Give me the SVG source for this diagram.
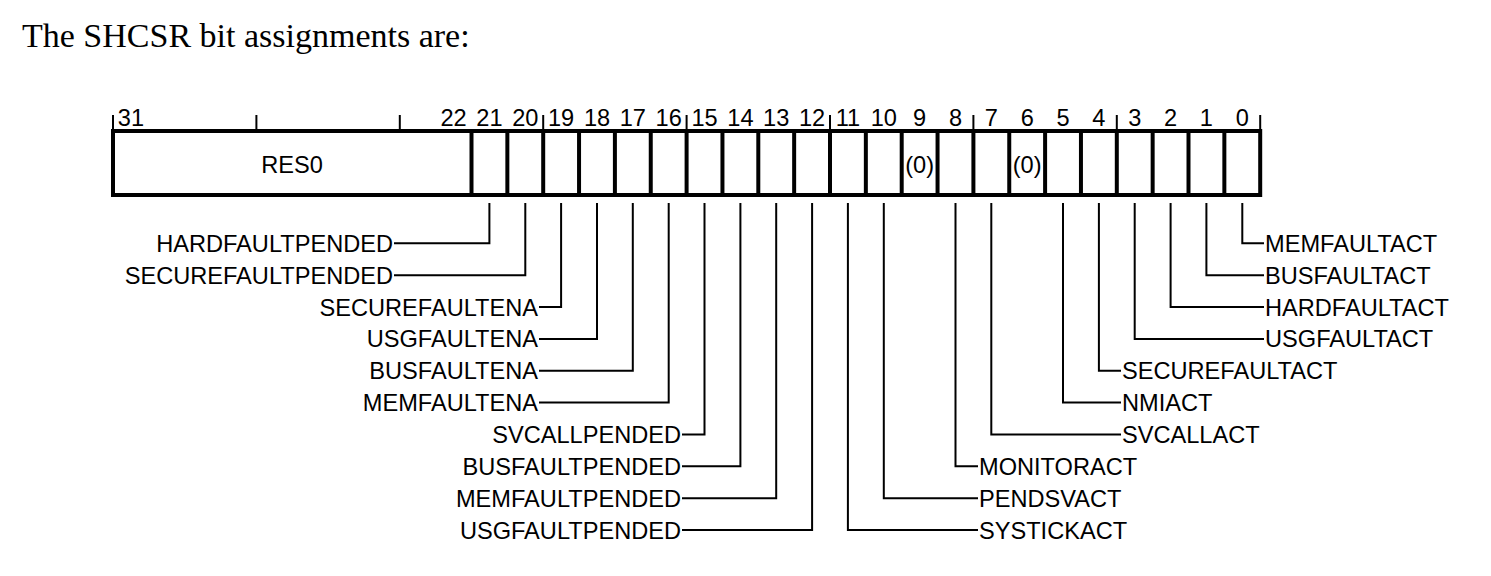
<svg xmlns="http://www.w3.org/2000/svg" width="1491" height="576" viewBox="0 0 1491 576">
<style>
.t{font-family:"Liberation Sans",Arial,sans-serif;font-size:23.6px;fill:#000}
.n{text-anchor:middle}
.e{text-anchor:end}
.c{fill:none;stroke:#000;stroke-width:2;stroke-linejoin:miter}
.d{stroke:#000;stroke-width:4}
.k{stroke:#000;stroke-width:2}
</style>
<rect width="1491" height="576" fill="#fff"/>
<text x="22" y="47" font-family="'Liberation Serif','Times New Roman',serif" font-size="34" fill="#000">The SHCSR bit assignments are:</text>
<g id="register">
<g id="ticks">
<line class="k" x1="113" y1="115" x2="113" y2="131"/>
<line class="k" x1="256.4" y1="115" x2="256.4" y2="131"/>
<line class="k" x1="399.8" y1="115" x2="399.8" y2="131"/>
<line class="k" x1="543.2" y1="115" x2="543.2" y2="131"/>
<line class="k" x1="686.6" y1="115" x2="686.6" y2="131"/>
<line class="k" x1="830" y1="115" x2="830" y2="131"/>
<line class="k" x1="973.4" y1="115" x2="973.4" y2="131"/>
<line class="k" x1="1116.8" y1="115" x2="1116.8" y2="131"/>
<line class="k" x1="1260.2" y1="115" x2="1260.2" y2="131"/>
</g>
<g id="bitnums" class="t n">
<text x="130.9" y="126">31</text>
<text x="453.6" y="126">22</text>
<text x="489.4" y="126">21</text>
<text x="525.3" y="126">20</text>
<text x="561.1" y="126">19</text>
<text x="597" y="126">18</text>
<text x="632.8" y="126">17</text>
<text x="668.7" y="126">16</text>
<text x="704.5" y="126">15</text>
<text x="740.4" y="126">14</text>
<text x="776.2" y="126">13</text>
<text x="812.1" y="126">12</text>
<text x="847.9" y="126">11</text>
<text x="883.8" y="126">10</text>
<text x="919.6" y="126">9</text>
<text x="955.5" y="126">8</text>
<text x="991.3" y="126">7</text>
<text x="1027.2" y="126">6</text>
<text x="1063" y="126">5</text>
<text x="1098.9" y="126">4</text>
<text x="1134.7" y="126">3</text>
<text x="1170.6" y="126">2</text>
<text x="1206.4" y="126">1</text>
<text x="1242.3" y="126">0</text>
</g>
<rect x="113" y="131" width="1147.2" height="64" fill="#fff" stroke="#000" stroke-width="4"/>
<g id="dividers">
<line class="d" x1="471.5" y1="131" x2="471.5" y2="195"/>
<line class="d" x1="507.35" y1="131" x2="507.35" y2="195"/>
<line class="d" x1="543.2" y1="131" x2="543.2" y2="195"/>
<line class="d" x1="579.05" y1="131" x2="579.05" y2="195"/>
<line class="d" x1="614.9" y1="131" x2="614.9" y2="195"/>
<line class="d" x1="650.75" y1="131" x2="650.75" y2="195"/>
<line class="d" x1="686.6" y1="131" x2="686.6" y2="195"/>
<line class="d" x1="722.45" y1="131" x2="722.45" y2="195"/>
<line class="d" x1="758.3" y1="131" x2="758.3" y2="195"/>
<line class="d" x1="794.15" y1="131" x2="794.15" y2="195"/>
<line class="d" x1="830" y1="131" x2="830" y2="195"/>
<line class="d" x1="865.85" y1="131" x2="865.85" y2="195"/>
<line class="d" x1="901.7" y1="131" x2="901.7" y2="195"/>
<line class="d" x1="937.55" y1="131" x2="937.55" y2="195"/>
<line class="d" x1="973.4" y1="131" x2="973.4" y2="195"/>
<line class="d" x1="1009.25" y1="131" x2="1009.25" y2="195"/>
<line class="d" x1="1045.1" y1="131" x2="1045.1" y2="195"/>
<line class="d" x1="1080.95" y1="131" x2="1080.95" y2="195"/>
<line class="d" x1="1116.8" y1="131" x2="1116.8" y2="195"/>
<line class="d" x1="1152.65" y1="131" x2="1152.65" y2="195"/>
<line class="d" x1="1188.5" y1="131" x2="1188.5" y2="195"/>
<line class="d" x1="1224.35" y1="131" x2="1224.35" y2="195"/>
</g>
<g id="cell-text" class="t n">
<text x="292" y="173">RES0</text>
<text x="919.6" y="173">(0)</text>
<text x="1027.2" y="173">(0)</text>
</g>
</g>
<g id="connectors">
<path class="c" d="M489.4 203V243.3H394"/>
<path class="c" d="M525.3 203V275.2H394"/>
<path class="c" d="M561.1 203V307H539"/>
<path class="c" d="M597 203V338.9H539"/>
<path class="c" d="M632.8 203V370.7H539"/>
<path class="c" d="M668.7 203V402.6H539"/>
<path class="c" d="M704.5 203V434.5H682"/>
<path class="c" d="M740.4 203V466.3H682"/>
<path class="c" d="M776.2 203V498.2H682"/>
<path class="c" d="M812.1 203V530H682"/>
<path class="c" d="M847.9 203V530H978"/>
<path class="c" d="M883.8 203V498.2H978"/>
<path class="c" d="M955.5 203V466.3H978"/>
<path class="c" d="M991.3 203V434.5H1121"/>
<path class="c" d="M1063 203V402.6H1121"/>
<path class="c" d="M1098.9 203V370.7H1121"/>
<path class="c" d="M1134.7 203V338.9H1264"/>
<path class="c" d="M1170.6 203V307H1264"/>
<path class="c" d="M1206.4 203V275.2H1264"/>
<path class="c" d="M1242.3 203V243.3H1264"/>
</g>
<g id="labels-left" class="t e">
<text id="bit21" x="393" y="251.8">HARDFAULTPENDED</text>
<text id="bit20" x="393" y="283.7">SECUREFAULTPENDED</text>
<text id="bit19" x="538" y="315.5">SECUREFAULTENA</text>
<text id="bit18" x="538" y="347.4">USGFAULTENA</text>
<text id="bit17" x="538" y="379.2">BUSFAULTENA</text>
<text id="bit16" x="538" y="411.1">MEMFAULTENA</text>
<text id="bit15" x="681" y="443">SVCALLPENDED</text>
<text id="bit14" x="681" y="474.8">BUSFAULTPENDED</text>
<text id="bit13" x="681" y="506.7">MEMFAULTPENDED</text>
<text id="bit12" x="681" y="538.5">USGFAULTPENDED</text>
</g>
<g id="labels-right" class="t">
<text id="bit0" x="1265" y="251.8">MEMFAULTACT</text>
<text id="bit1" x="1265" y="283.7">BUSFAULTACT</text>
<text id="bit2" x="1265" y="315.5">HARDFAULTACT</text>
<text id="bit3" x="1265" y="347.4">USGFAULTACT</text>
<text id="bit4" x="1122" y="379.2">SECUREFAULTACT</text>
<text id="bit5" x="1122" y="411.1">NMIACT</text>
<text id="bit7" x="1122" y="443">SVCALLACT</text>
<text id="bit8" x="979" y="474.8">MONITORACT</text>
<text id="bit10" x="979" y="506.7">PENDSVACT</text>
<text id="bit11" x="979" y="538.5">SYSTICKACT</text>
</g>
</svg>
